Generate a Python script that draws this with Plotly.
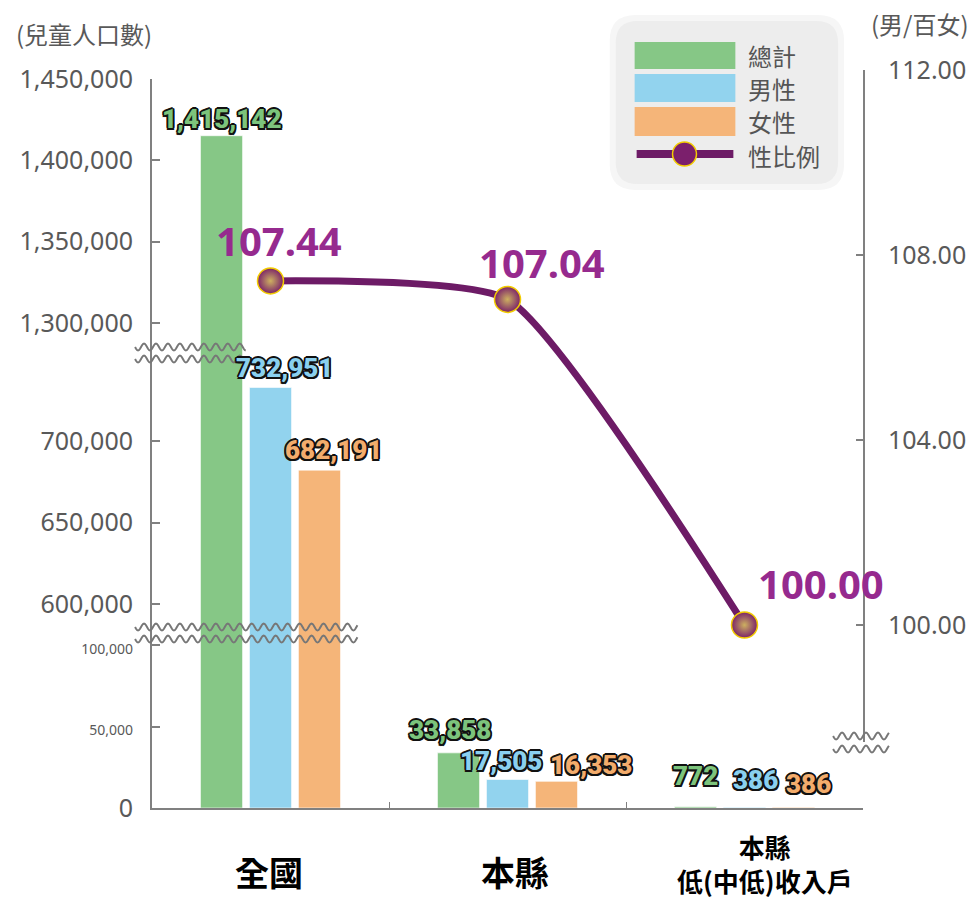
import math
import plotly.graph_objects as go

# data
categories = ["全國", "本縣", "本縣低(中低)收入戶"]
category_labels = ["全國", "本縣", "本縣<br>低(中低)收入戶"]
total = [1415142, 33858, 772]
male = [732951, 17505, 386]
female = [682191, 16353, 386]
sex_ratio = [107.44, 107.04, 100.00]

left_ticks_low = [0, 50000, 100000]
left_ticks_mid = [600000, 650000, 700000]
left_ticks_high = [1300000, 1350000, 1400000, 1450000]
right_ticks_low = [0]
right_ticks_high = [100, 104, 108, 112]

# pixels of the plot area (used for the broken-axis marks and the legend box)
FIG_W, FIG_H = 978, 902
L, R, T, B = 152, 865, 70, 808


def px(x):
    return (x - L) / (R - L)


def py(y):
    return (B - y) / (B - T)


# left axis broken into three pieces, same scale on each
segments = [
    ("y", [0, py(633)], [0, 107450], left_ticks_low),
    ("y2", [py(633), py(353)], [582200, 754100], left_ticks_mid),
    ("y3", [py(353), py(79)], [1281600, 1450000], left_ticks_high),
]

series = [
    ("總計", total, "#86c786", "#7cc47c"),
    ("男性", male, "#92d3ee", "#8ad0ef"),
    ("女性", female, "#f5b579", "#f3ac6c"),
]

outline = ", ".join(f"{dx}px {dy}px 0 #111" for dx, dy in
                    [(-1.5, -1.5), (1.5, -1.5), (-1.5, 1.5), (1.5, 1.5),
                     (0, 1.8), (0, -1.8), (1.8, 0), (-1.8, 0)])

fig = go.Figure()

for axis, dom, rng, _ in segments:
    for name, vals, col, tcol in series:
        fig.add_trace(go.Bar(
            x=categories, y=vals, name=name, yaxis=axis,
            marker=dict(color=col, line=dict(color="rgba(255,255,255,0.6)", width=1)),
            showlegend=False, hoverinfo="skip"))

fig.add_trace(go.Scatter(
    x=categories, y=sex_ratio, yaxis="y5", mode="lines+markers", name="性比例",
    line=dict(color="#6d1b66", width=7, shape="spline", smoothing=0.5),
    marker=dict(size=26, color="#7b2369",
                gradient=dict(type="radial", color="#cdb060"),
                line=dict(color="#f2cc00", width=1.5)),
    showlegend=False, hoverinfo="skip"))

axis_col = "#808080"
tick_col = "#595959"
num_font = "Noto Sans"
cjk_font = "Noto Sans CJK TC"

layout_axes = {}
for axis, dom, rng, tv in segments:
    key = "yaxis" if axis == "y" else "yaxis" + axis[1:]
    if axis == "y":
        ttext = [f"{v:,}" if v == 0 else f"<span style='font-size:14px'>{v:,}</span>" for v in tv]
    else:
        ttext = [f"{v:,}" for v in tv]
    layout_axes[key] = dict(
        domain=dom, range=rng, anchor="x", showline=True, linecolor=axis_col, linewidth=2,
        ticks="inside", ticklen=8, tickwidth=2, tickcolor=axis_col,
        tickvals=tv, ticktext=ttext, ticklabelstandoff=12,
        tickfont=dict(family=num_font, size=25, color=tick_col),
        showgrid=False, zeroline=False)

layout_axes["yaxis4"] = dict(
    domain=[0, py(742)], range=[0, 10], anchor="x", side="right",
    showline=True, linecolor=axis_col, linewidth=2,
    ticks="inside", ticklen=7, tickwidth=2, tickcolor=axis_col,
    tickvals=right_ticks_low, tickformat=".2f", ticklabelstandoff=18,
    tickfont=dict(family=num_font, size=25, color=tick_col),
    showgrid=False, zeroline=False)
layout_axes["yaxis5"] = dict(
    domain=[py(742), 1], range=[100 - 117 / 46.25, 112], anchor="x", side="right",
    showline=True, linecolor=axis_col, linewidth=2,
    ticks="inside", ticklen=7, tickwidth=2, tickcolor=axis_col,
    tickvals=right_ticks_high, tickformat=".2f", ticklabelstandoff=18,
    tickfont=dict(family=num_font, size=25, color=tick_col),
    showgrid=False, zeroline=False)

fig.update_layout(
    width=FIG_W, height=FIG_H,
    margin=dict(l=L, r=FIG_W - R, t=T, b=FIG_H - B),
    paper_bgcolor="white", plot_bgcolor="rgba(0,0,0,0)",
    barmode="group", bargap=0.38, bargroupgap=0.14,
    showlegend=False,
    xaxis=dict(
        domain=[0, 1], anchor="y", type="category", range=[-0.5, 2.5],
        showline=True, linecolor=axis_col, linewidth=2,
        ticks="inside", tickson="boundaries", ticklen=6, tickcolor=axis_col,
        showticklabels=False, showgrid=False, zeroline=False),
    **layout_axes,
)

# category labels under the axis
cat_sizes = [34, 34, 26]
cat_dx = [-2, 7, 20]
for cat, lab, size, dx in zip(categories, category_labels, cat_sizes, cat_dx):
    if "<br>" in lab:
        # two-line label sits on the bottom edge of the picture
        pos = dict(y=py(901), yanchor="bottom")
    else:
        pos = dict(y=py(871), yanchor="middle")
    fig.add_annotation(x=cat, xref="x", yref="paper", text=lab,
                       showarrow=False, xanchor="center", xshift=dx, **pos,
                       font=dict(family=cjk_font, size=size, color="black", weight="bold"))

# outlined value labels above the bars
label_dx = {"總計": [-49, -58, -49], "男性": [14, -7, 11], "女性": [63, 83, 64]}
label_dy = {"總計": [0, 6, 14], "男性": [2, 1, 10], "女性": [3, -1, 6]}
for name, vals, col, tcol in series:
    for cat, v, dx, dy in zip(categories, vals, label_dx[name], label_dy[name]):
        axis = next(a for a, d, r, t in segments if r[0] <= v < r[1])
        fig.add_annotation(x=cat, y=v, xref="x", yref=axis, text=f"{v:,}",
                           showarrow=False, xanchor="center", yanchor="bottom",
                           xshift=dx, yshift=dy,
                           font=dict(family="Roboto", size=26, color=tcol, weight=900,
                                     shadow=outline))

# sex ratio value labels
offsets = [(8, 40), (34, 37), (76, 42)]
for cat, val, (dx, dy) in zip(categories, sex_ratio, offsets):
    fig.add_annotation(x=cat, y=val, xref="x", yref="y5", text=f"{val:.2f}",
                       showarrow=False, xshift=dx, yshift=dy,
                       xanchor="center", yanchor="middle",
                       font=dict(family=num_font, size=40, color="#962a8e", weight="bold"))

# axis titles
fig.add_annotation(x=px(84), y=py(34), xref="paper", yref="paper", text="(兒童人口數)",
                   showarrow=False, xanchor="center", yanchor="middle",
                   font=dict(family=cjk_font, size=24, color=tick_col))
fig.add_annotation(x=px(922), y=py(23), xref="paper", yref="paper", text="(男/百女)",
                   showarrow=False, xanchor="center", yanchor="middle",
                   font=dict(family=cjk_font, size=24, color=tick_col))


# broken axis marks
def wave(x0, x1, y, amp=3.5, period=12.0):
    pts = []
    for i in range(int(x1 - x0) + 1):
        yy = y + amp * math.sin(2 * math.pi * i / period)
        pts.append(f"{px(x0 + i):.5f},{py(yy):.5f}")
    return "M" + " L".join(pts)


for x0, x1, y in [(135, 246, 347), (135, 246, 359), (135, 358, 627), (135, 358, 639),
                  (835, 891, 736), (835, 891, 749)]:
    fig.add_shape(type="path", path=wave(x0, x1, y), xref="paper", yref="paper",
                  line=dict(color="#777777", width=2))


# legend box
def round_rect(x0, y0, x1, y1, r):
    return (f"M{px(x0 + r)},{py(y0)} L{px(x1 - r)},{py(y0)} Q{px(x1)},{py(y0)} {px(x1)},{py(y0 + r)} "
            f"L{px(x1)},{py(y1 - r)} Q{px(x1)},{py(y1)} {px(x1 - r)},{py(y1)} "
            f"L{px(x0 + r)},{py(y1)} Q{px(x0)},{py(y1)} {px(x0)},{py(y1 - r)} "
            f"L{px(x0)},{py(y0 + r)} Q{px(x0)},{py(y0)} {px(x0 + r)},{py(y0)} Z")


fig.add_shape(type="path", path=round_rect(611, 15, 846, 190, 26), xref="paper", yref="paper",
              fillcolor="#f6f6f6", line_width=0, layer="below")
fig.add_shape(type="path", path=round_rect(617, 21, 840, 184, 22), xref="paper", yref="paper",
              fillcolor="#ededed", line_width=0, layer="below")

legend_rows = [("總計", "#86c786", 42, 69), ("男性", "#92d3ee", 74, 102), ("女性", "#f5b579", 107, 136)]
for label, col, y0, y1 in legend_rows:
    fig.add_shape(type="rect", x0=px(636), x1=px(737), y0=py(y1), y1=py(y0),
                  xref="paper", yref="paper", fillcolor=col, line_width=0)
    fig.add_annotation(x=px(748), y=py((y0 + y1) / 2), xref="paper", yref="paper", text=label,
                       xanchor="left", yanchor="middle", showarrow=False,
                       font=dict(family=cjk_font, size=24, color="#555555"))
fig.add_shape(type="line", x0=px(638), x1=px(735), y0=py(154), y1=py(154),
              xref="paper", yref="paper", line=dict(color="#6d1b66", width=8))
fig.add_shape(type="circle", x0=px(674), x1=px(698), y0=py(166), y1=py(142),
              xref="paper", yref="paper", fillcolor="#7b1f6c",
              line=dict(color="#f2cc00", width=1.5))
fig.add_annotation(x=px(748), y=py(155), xref="paper", yref="paper", text="性比例",
                   xanchor="left", yanchor="middle", showarrow=False,
                   font=dict(family=cjk_font, size=24, color="#555555"))

# the page body has a default 8px margin; drop it so the figure fills the window
fig.write_html("out.html", config={"displayModeBar": False},
               post_script="document.body.style.margin = '0px';")
